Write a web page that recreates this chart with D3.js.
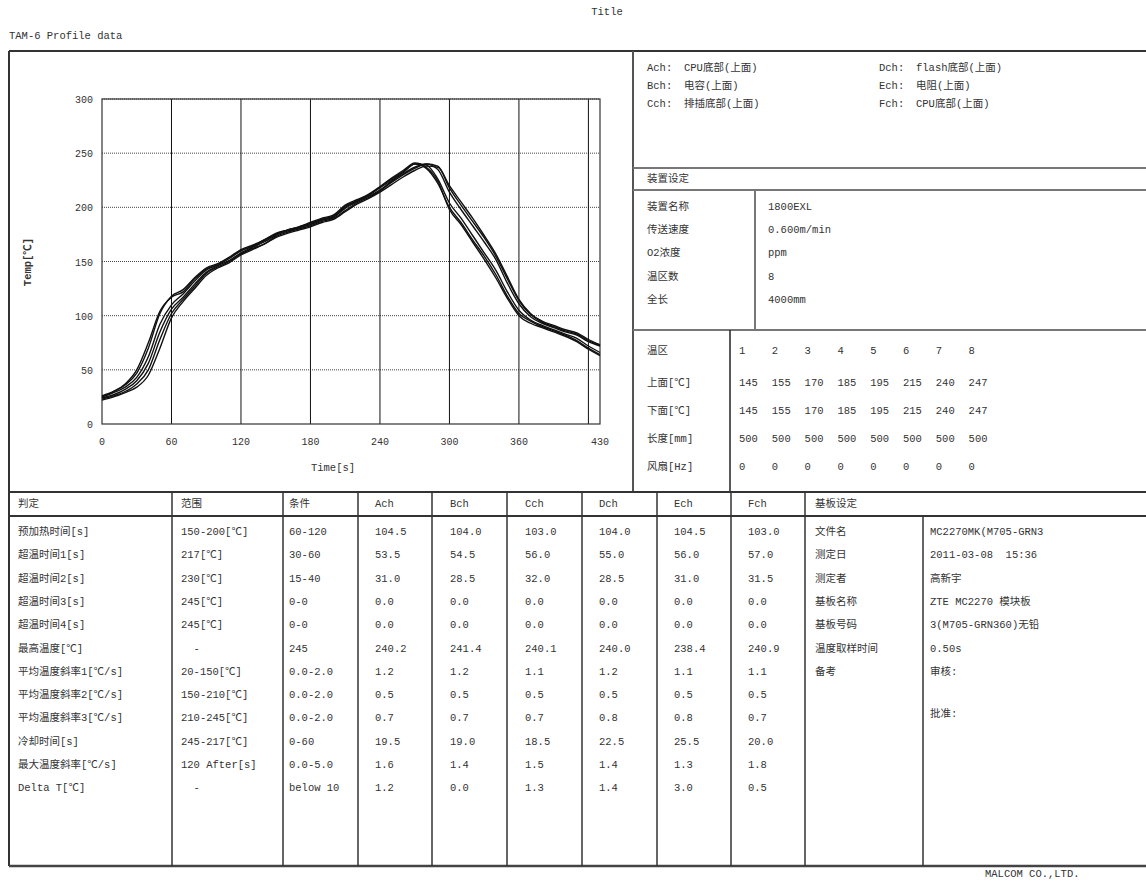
<!DOCTYPE html>
<html lang="zh"><head>
<meta charset="utf-8">
<title>TAM-6 Profile data</title>
<script src="https://cdn.jsdelivr.net/npm/d3@7"></script>
<style>
  body { margin: 0; background: #fff; }
  text { font-family: "Liberation Mono", "Noto Sans CJK SC", monospace; font-size: 10.5px; fill: #333; white-space: pre; }
</style>
</head>
<body>
<script type="text/javascript">

var width = 1146;
var height = 882;

// time axis of the profile, 10s steps
var times = [0,10,20,30,40,50,60,70,80,90,100,110,120,130,140,150,160,170,180,190,200,
             210,220,230,240,250,260,270,280,290,300,310,320,330,340,350,360,370,380,390,400,410,420,430];

var achTemp = [26,30,36,47,70,102,118,124,135,144,148,154,161,165,170,176,179,182,186,190,193,
               202,207,212,219,226,233,240,236,222,200,186,170,155,138,118,102,95,90,86,82,77,70,64];
var bchTemp = [25,29,34,43,62,92,110,120,132,142,147,153,160,164,169,175,179,182,185,189,192,
               200,206,211,218,225,232,240,239,226,204,190,174,158,142,122,105,96,91,87,83,79,72,66];
var cchTemp = [24,27,32,40,56,85,106,117,129,140,146,151,158,163,168,174,178,181,184,188,191,
               199,205,210,216,224,231,237,240,235,214,198,183,168,152,130,111,99,93,89,85,82,76,72];
var dchTemp = [23,26,30,37,50,78,102,115,127,139,145,150,157,162,166,173,177,180,183,187,190,
               197,204,209,215,223,230,236,240,238,218,202,187,172,155,134,114,101,94,90,86,83,77,73];
var echTemp = [22,25,29,34,45,70,98,113,125,137,144,149,156,161,166,172,176,179,182,186,189,
               196,203,208,214,221,228,234,238,237,220,205,190,174,157,136,115,102,95,91,87,84,78,73];
var fchTemp = [25,30,37,50,75,104,117,122,134,143,147,153,160,164,170,175,179,181,185,189,192,
               201,206,211,219,227,234,241,237,224,198,184,168,152,135,116,100,93,89,85,81,76,69,63];

var xTicks = [0,60,120,180,240,300,360,430];
var xGrid = [60,120,180,240,300,360,420];
var yTicks = [0,50,100,150,200,250,300];

var channels = ["Ach","Bch","Cch","Dch","Ech","Fch"];
var channelNames = ["CPU底部(上面)","电容(上面)","排插底部(上面)","flash底部(上面)","电阻(上面)","CPU底部(上面)"];

var deviceLabels = ["装置名称","传送速度","O2浓度","温区数","全长"];
var deviceValues = ["1800EXL","0.600m/min","ppm","8","4000mm"];

var zoneLabels = ["温区","上面[℃]","下面[℃]","长度[mm]","风扇[Hz]"];
var zoneNumbers = [1,2,3,4,5,6,7,8];
var zoneTop = [145,155,170,185,195,215,240,247];
var zoneBottom = [145,155,170,185,195,215,240,247];
var zoneLength = [500,500,500,500,500,500,500,500];
var zoneFan = [0,0,0,0,0,0,0,0];

var judgeHeaders = ["判定","范围","条件","Ach","Bch","Cch","Dch","Ech","Fch","基板设定"];
var judgeItems = ["预加热时间[s]","超温时间1[s]","超温时间2[s]","超温时间3[s]","超温时间4[s]","最高温度[℃]",
                  "平均温度斜率1[℃/s]","平均温度斜率2[℃/s]","平均温度斜率3[℃/s]","冷却时间[s]","最大温度斜率[℃/s]","Delta T[℃]"];
var judgeRanges = ["150-200[℃]","217[℃]","230[℃]","245[℃]","245[℃]","  -","20-150[℃]","150-210[℃]",
                   "210-245[℃]","245-217[℃]","120 After[s]","  -"];
var judgeConditions = ["60-120","30-60","15-40","0-0","0-0","245","0.0-2.0","0.0-2.0","0.0-2.0","0-60","0.0-5.0","below 10"];
var achResult = [104.5,53.5,31.0,0.0,0.0,240.2,1.2,0.5,0.7,19.5,1.6,1.2];
var bchResult = [104.0,54.5,28.5,0.0,0.0,241.4,1.2,0.5,0.7,19.0,1.4,0.0];
var cchResult = [103.0,56.0,32.0,0.0,0.0,240.1,1.1,0.5,0.7,18.5,1.5,1.3];
var dchResult = [104.0,55.0,28.5,0.0,0.0,240.0,1.2,0.5,0.8,22.5,1.4,1.4];
var echResult = [104.5,56.0,31.0,0.0,0.0,238.4,1.1,0.5,0.8,25.5,1.3,3.0];
var fchResult = [103.0,57.0,31.5,0.0,0.0,240.9,1.1,0.5,0.7,20.0,1.8,0.5];

var boardLabels = ["文件名","测定日","测定者","基板名称","基板号码","温度取样时间","备考"];
var boardValues = ["MC2270MK(M705-GRN3","2011-03-08  15:36","高新宇","ZTE MC2270 模块板","3(M705-GRN360)无铅","0.50s","审核:"];


var svg = d3.select("body").append("svg")
            .attr("width", width)
            .attr("height", height);

// page header / footer
svg.append("text").attr("x", 607).attr("y", 15).attr("text-anchor", "middle").text("Title");
svg.append("text").attr("x", 9).attr("y", 39).text("TAM-6 Profile data");
svg.append("text").attr("x", 985).attr("y", 877).text("MALCOM CO.,LTD.");

// frame lines
var line = (x1, y1, x2, y2, w, c) => {
    svg.append("line")
        .attr("x1", x1).attr("y1", y1).attr("x2", x2).attr("y2", y2)
        .attr("stroke", c || "#333").attr("stroke-width", w || 1.5);
};
line(9, 51, 1150, 51, 2);
line(9, 51, 9, 866, 2);
line(9, 866, 1150, 866, 2.5, "#444");
line(633, 51, 633, 492, 2, "#555");
line(633, 168, 1150, 168, 2, "#777");
line(633, 190, 1150, 190, 2, "#777");
line(755, 190, 755, 330, 2, "#777");
line(633, 330, 1150, 330, 2, "#777");
line(730, 330, 730, 492, 1.5, "#222");
line(9, 492, 1150, 492, 2);
line(9, 516, 1150, 516, 2);
var colLines = [172, 283, 358, 432, 507, 582, 657, 731, 805];
colLines.forEach((x) => line(x, 492, x, 866, 1.5));
line(923, 516, 923, 866, 1.5);

// ---------- profile chart ----------
var x = d3.scaleLinear().domain([0, 430]).range([102, 600]);
var y = d3.scaleLinear().domain([0, 300]).range([424, 99]);

var chart = svg.append("g");

chart.selectAll(".hgrid")
    .data(yTicks.slice(1))
    .enter().append("line")
    .attr("x1", x(0)).attr("x2", x(430))
    .attr("y1", (d) => y(d)).attr("y2", (d) => y(d))
    .attr("stroke", "#444").attr("stroke-width", 1)
    .attr("stroke-dasharray", "1,1");

chart.selectAll(".vgrid")
    .data(xGrid)
    .enter().append("line")
    .attr("x1", (d) => x(d)).attr("x2", (d) => x(d))
    .attr("y1", y(0)).attr("y2", y(300))
    .attr("stroke", "#111").attr("stroke-width", 1);

chart.append("rect")
    .attr("x", x(0)).attr("y", y(300))
    .attr("width", x(430) - x(0)).attr("height", y(0) - y(300))
    .attr("fill", "none").attr("stroke", "#333").attr("stroke-width", 1.2);

chart.selectAll(".ytick")
    .data(yTicks)
    .enter().append("text")
    .attr("x", 93).attr("y", (d) => y(d) + 4)
    .attr("text-anchor", "end")
    .style("font-size", "10px")
    .text((d) => d);

chart.selectAll(".xtick")
    .data(xTicks)
    .enter().append("text")
    .attr("x", (d) => x(d)).attr("y", 445)
    .attr("text-anchor", "middle")
    .style("font-size", "10px")
    .text((d) => d);

chart.append("text")
    .attr("x", 333).attr("y", 471)
    .attr("text-anchor", "middle")
    .text("Time[s]");

chart.append("text")
    .attr("transform", "translate(31,262) rotate(-90)")
    .attr("text-anchor", "middle")
    .style("font-weight", "bold")
    .text("Temp[℃]");

var allSeries = [achTemp, bchTemp, cchTemp, dchTemp, echTemp, fchTemp];
var valueLine = d3.line()
    .x((d, i) => x(times[i]))
    .y((d) => y(d))
    .curve(d3.curveMonotoneX);

chart.selectAll(".profile")
    .data(allSeries)
    .enter().append("path")
    .attr("d", valueLine)
    .attr("fill", "none")
    .attr("stroke", "#111")
    .attr("stroke-width", 1.4);

// ---------- channel legend ----------
var legend = svg.selectAll(".legend")
    .data(channels)
    .enter().append("g")
    .attr("transform", (d, i) => "translate(" + (i < 3 ? 647 : 879) + "," + (71 + (i % 3) * 18) + ")");
legend.append("text").text((d) => d + ":");
legend.append("text").attr("x", 37).text((d, i) => channelNames[i]);

// ---------- device settings ----------
svg.append("text").attr("x", 647).attr("y", 182).text("装置设定");
svg.selectAll(".devLabel")
    .data(deviceLabels)
    .enter().append("text")
    .attr("x", 647).attr("y", (d, i) => 210 + i * 23.2)
    .text((d) => d);
svg.selectAll(".devValue")
    .data(deviceValues)
    .enter().append("text")
    .attr("x", 768).attr("y", (d, i) => 210 + i * 23.2)
    .text((d) => d);

// ---------- zone table ----------
var zoneRowsY = [354, 386, 414, 442, 470];
svg.selectAll(".zoneLabel")
    .data(zoneLabels)
    .enter().append("text")
    .attr("x", 647).attr("y", (d, i) => zoneRowsY[i])
    .text((d) => d);
var zoneRows = [zoneNumbers, zoneTop, zoneBottom, zoneLength, zoneFan];
zoneRows.forEach((row, r) => {
    svg.selectAll(".zoneRow" + r)
        .data(row)
        .enter().append("text")
        .attr("x", (d, i) => 739 + i * 32.8)
        .attr("y", zoneRowsY[r])
        .text((d) => d);
});

// ---------- judgement table ----------
var headerX = [18, 181, 289, 375, 450, 525, 599, 674, 748, 815];
svg.selectAll(".jHead")
    .data(judgeHeaders)
    .enter().append("text")
    .attr("x", (d, i) => headerX[i]).attr("y", 507)
    .text((d) => d);

var rowY = (i) => 535 + i * 23.3;
var results = [achResult, bchResult, cchResult, dchResult, echResult, fchResult];
var textCols = [judgeItems, judgeRanges, judgeConditions];
textCols.forEach((col, c) => {
    svg.selectAll(".jCol" + c)
        .data(col)
        .enter().append("text")
        .attr("x", headerX[c]).attr("y", (d, i) => rowY(i))
        .text((d) => d);
});
results.forEach((col, c) => {
    svg.selectAll(".jRes" + c)
        .data(col)
        .enter().append("text")
        .attr("x", headerX[c + 3]).attr("y", (d, i) => rowY(i))
        .text((d) => d.toFixed(1));
});

svg.selectAll(".bLabel")
    .data(boardLabels)
    .enter().append("text")
    .attr("x", 815).attr("y", (d, i) => rowY(i))
    .text((d) => d);
svg.selectAll(".bValue")
    .data(boardValues)
    .enter().append("text")
    .attr("x", 930).attr("y", (d, i) => rowY(i))
    .text((d) => d);
svg.append("text").attr("x", 930).attr("y", 717).text("批准:");

</script>
</body></html>
